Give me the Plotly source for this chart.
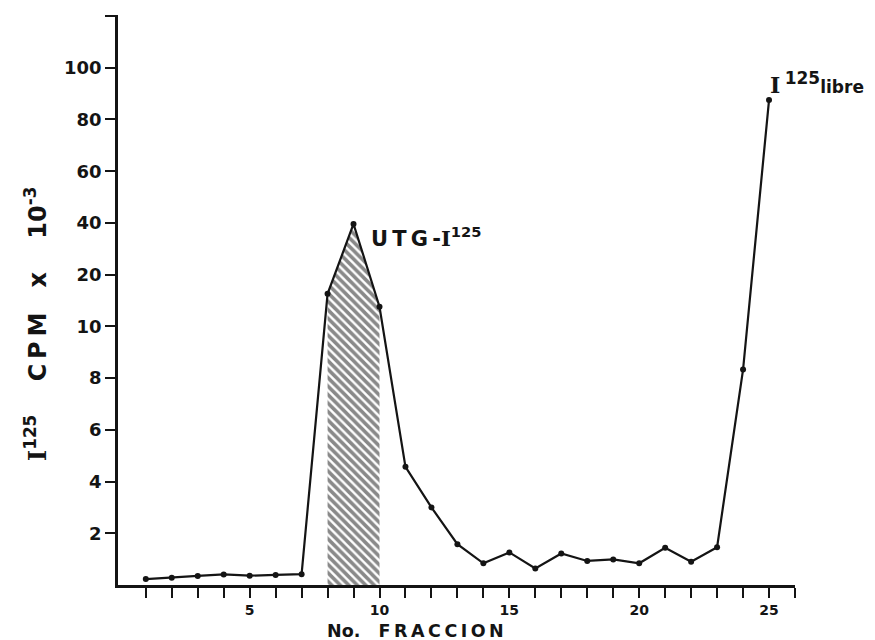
import numpy as np
import plotly.graph_objects as go

# ---- data ----
fraction = list(range(1, 26))
cpm_e3 = [0.23, 0.28, 0.35, 0.41, 0.36, 0.39, 0.42, 16.3, 39.6, 13.8, 4.57, 3.0,
          1.58, 0.84, 1.26, 0.64, 1.22, 0.93, 0.99, 0.84, 1.44, 0.90, 1.46, 8.33, 87.5]
peak_fraction = [8, 9, 10]
peak_values = [16.3, 39.6, 13.8]

# broken (equally spaced tick) y scale
y_tick_values = [0, 2, 4, 6, 8, 10, 20, 40, 60, 80, 100]
y_tick_labels = ["", "2", "4", "6", "8", "10", "20", "40", "60", "80", "100"]
x_tick_labels = {5: "5", 10: "10", 15: "15", 20: "20", 25: "25"}

def to_pos(v):
    return np.interp(v, y_tick_values, np.arange(len(y_tick_values)))

INK = "#141414"

fig = go.Figure()

fig.add_trace(go.Scatter(
    x=peak_fraction, y=to_pos(peak_values), mode="lines",
    line=dict(width=0, color=INK), fill="tozeroy", fillcolor="white",
    fillpattern=dict(shape="\\", fgcolor=INK, bgcolor="white", size=6, solidity=0.6),
    hoverinfo="skip", showlegend=False))

fig.add_trace(go.Scatter(
    x=fraction, y=to_pos(cpm_e3), mode="lines+markers",
    line=dict(color=INK, width=2.2),
    marker=dict(color=INK, size=6),
    showlegend=False))

L, R, T, B = 118, 80, 15, 55
W, H = 875, 640
pw, ph = W - L - R, H - T - B

def px(x):
    return (x - L) / pw

def py(y):
    return (H - B - y) / ph

fig.update_layout(
    width=W, height=H,
    margin=dict(l=L, r=R, t=T, b=B),
    paper_bgcolor="white", plot_bgcolor="white",
    font=dict(family="DejaVu Sans", color=INK),
)

fig.update_xaxes(
    range=[-0.07, 26.0], showgrid=False, zeroline=False,
    showline=True, linewidth=2.5, linecolor=INK,
    ticks="outside", ticklen=10, tickwidth=2, tickcolor=INK,
    tickvals=list(range(1, 27)),
    ticktext=[x_tick_labels.get(i, "") for i in range(1, 27)],
    tickfont=dict(size=14, family="DejaVu Sans", weight="bold"),
)
fig.update_yaxes(
    range=[0, 11.02], showgrid=False, zeroline=False,
    showline=True, linewidth=2.5, linecolor=INK,
    ticks="outside", ticklen=10, tickwidth=2, tickcolor=INK,
    tickvals=list(range(1, 12)),
    ticktext=y_tick_labels[1:] + [""],
    tickfont=dict(size=18, family="DejaVu Sans", weight="bold"),
    ticklabelstandoff=0,
)

serif_I = "<span style='font-family:DejaVu Serif'>I</span>"
ts = "\u2009"
sp = "&nbsp;"

fig.add_annotation(
    xref="paper", yref="paper", x=px(36), y=py(324),
    text=serif_I + "<sup>125</sup>" + sp * 4 + "C" + ts + "P" + ts + "M" + sp * 3 + "x"
         + sp * 4 + "10<sup>-3</sup>",
    textangle=-90, showarrow=False, xanchor="center", yanchor="middle",
    font=dict(size=24, family="DejaVu Sans", weight="bold"))

fig.add_annotation(
    xref="paper", yref="paper", x=px(415), y=py(631),
    text="No." + sp * 3 + ts.join("FRACCION"),
    showarrow=False, xanchor="center", yanchor="middle",
    font=dict(size=17.5, family="DejaVu Sans", weight="bold"))

fig.add_annotation(
    xref="paper", yref="paper", x=px(369), y=py(237),
    text=ts.join("UTG-") + serif_I + "<sup>125</sup>",
    showarrow=False, xanchor="left", yanchor="middle",
    font=dict(size=21, family="DejaVu Sans", weight="bold"))

fig.add_annotation(
    xref="paper", yref="paper", x=px(768), y=py(83),
    text=serif_I + ts + "<sup><span style='font-size:17px'>125</span></sup>"
         + "<span style='font-size:17px'>libre</span>",
    showarrow=False, xanchor="left", yanchor="middle",
    font=dict(size=22, family="DejaVu Sans", weight="bold"))

fig.write_html("out.html", config={"displayModeBar": False},
               post_script="document.body.style.margin='0';")
